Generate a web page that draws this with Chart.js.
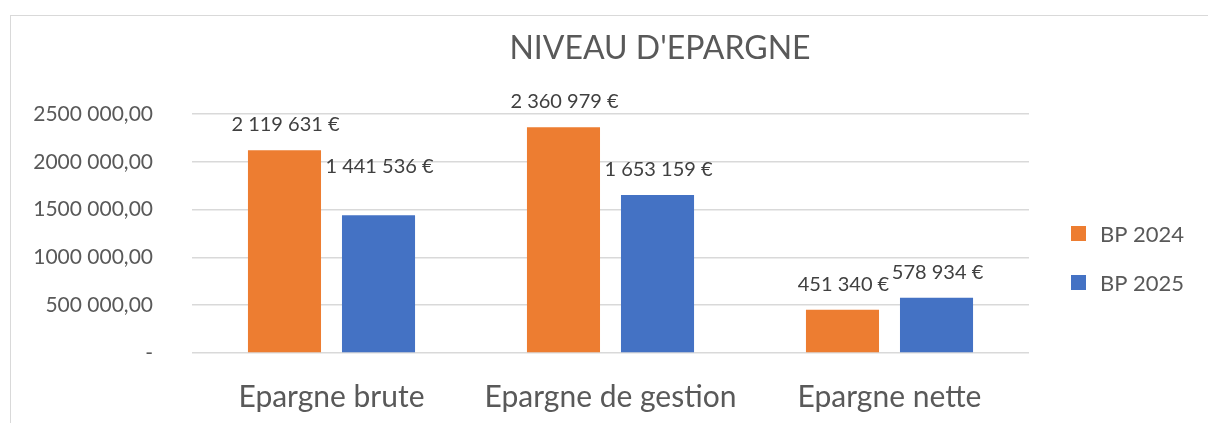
<!DOCTYPE html>
<html>
<head>
<meta charset="utf-8">
<script src="https://cdn.jsdelivr.net/npm/chart.js@4"></script>
<style>
  html, body { margin: 0; padding: 0; background: #fff; }
  #wrap { position: relative; width: 1208px; height: 423px; overflow: hidden; }
  #frame { position: absolute; left: 10px; top: 15px; width: 1210px; height: 440px; border: 1px solid #d9d9d9; box-sizing: border-box; }
  #chart { position: absolute; left: 0; top: 0; }
</style>
</head>
<body>
<div id="wrap">
  <div id="frame"></div>
  <canvas id="chart" width="1208" height="423"></canvas>
</div>
<script>
// NIVEAU D'EPARGNE - BP 2024 vs BP 2025

const categories = ['Epargne brute', 'Epargne de gestion', 'Epargne nette'];
const bp2024 = [2119631, 2360979, 451340];
const bp2025 = [1441536, 1653159, 578934];
const seriesNames = ['BP 2024', 'BP 2025'];
const yTickLabels = ['-', '500 000,00', '1000 000,00', '1500 000,00', '2000 000,00', '2500 000,00'];

const FONT = 'Lato, "Open Sans", sans-serif';
const GREY = '#595959';

function euro(v) {
    return String(v).replace(/\B(?=(\d{3})+(?!\d))/g, ' ') + ' €';
}

// title drawn by hand (Excel had it shifted right of centre)
const titlePlugin = {
    id: 'titleText',
    afterDraw(chart) {
        const ctx = chart.ctx;
        ctx.save();
        ctx.font = '32px ' + FONT;
        ctx.fillStyle = GREY;
        ctx.textAlign = 'center';
        ctx.textBaseline = 'alphabetic';
        ctx.fillText("NIVEAU D'EPARGNE", 660, 59);
        ctx.restore();
    }
};

// value labels over the bars
const valueLabels = {
    id: 'valueLabels',
    afterDatasetsDraw(chart) {
        const ctx = chart.ctx;
        ctx.save();
        ctx.font = '20px ' + FONT;
        ctx.fillStyle = '#404040';
        ctx.textAlign = 'center';
        ctx.textBaseline = 'alphabetic';
        chart.data.datasets.forEach((ds, di) => {
            chart.getDatasetMeta(di).data.forEach((bar, i) => {
                let lift = 19;
                if (di === 1 && i === 0) lift = 42; // label was dragged up in the original
                ctx.fillText(euro(ds.data[i]), bar.x + 1, bar.y - lift);
            });
        });
        ctx.restore();
    }
};

// legend on the right, stacked
const sideLegend = {
    id: 'sideLegend',
    afterDraw(chart) {
        const ctx = chart.ctx;
        const x0 = chart.chartArea.right + 42;
        ctx.save();
        ctx.font = '22px ' + FONT;
        ctx.textBaseline = 'alphabetic';
        ctx.textAlign = 'left';
        chart.data.datasets.forEach((ds, i) => {
            const y = 226 + i * 49;
            ctx.fillStyle = ds.backgroundColor;
            ctx.fillRect(x0, y, 15, 15);
            ctx.fillStyle = GREY;
            ctx.fillText(ds.label, x0 + 29, y + 16);
        });
        ctx.restore();
    }
};

new Chart(document.getElementById('chart'), {
    type: 'bar',
    data: {
        labels: categories,
        datasets: [
            { label: seriesNames[0], data: bp2024, backgroundColor: '#ED7D31' },
            { label: seriesNames[1], data: bp2025, backgroundColor: '#4472C4' }
        ]
    },
    options: {
        responsive: false,
        animation: false,
        categoryPercentage: 0.674,
        barPercentage: 0.777,
        layout: { padding: { top: 114, right: 179, bottom: 0, left: 0 } },
        scales: {
            x: {
                grid: { display: false },
                border: { display: false },
                ticks: { color: GREY, font: { family: FONT, size: 30 }, padding: 18, maxRotation: 0 },
                afterFit: s => { s.height = 70; }
            },
            y: {
                min: 0,
                max: 2500000,
                grid: { color: '#d9d9d9', lineWidth: 1.5, drawTicks: false },
                border: { display: false },
                ticks: {
                    stepSize: 500000,
                    color: GREY,
                    font: { family: FONT, size: 21 },
                    padding: 39,
                    callback: (v, i) => yTickLabels[i]
                },
                afterFit: s => { s.width = 192; }
            }
        },
        plugins: {
            legend: { display: false },
            tooltip: { enabled: false }
        }
    },
    plugins: [titlePlugin, valueLabels, sideLegend]
});
</script>
</body>
</html>
